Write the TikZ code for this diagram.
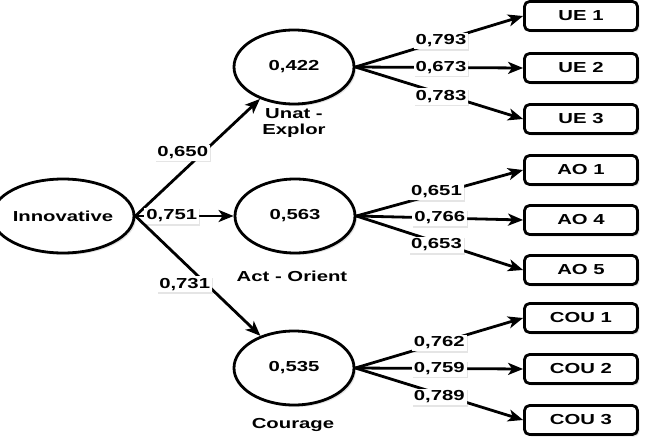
\documentclass[tikz,border=0pt]{standalone}
\usepackage{fontspec}
\setmainfont{Liberation Sans}[FakeStretch=1.4]
\usetikzlibrary{arrows.meta,shapes.geometric,shadows}
\begin{document}
\begin{tikzpicture}[x=1pt,y=-1pt,
  font=\fontsize{14.5}{16}\selectfont\bfseries,
  shd/.style={drop shadow={shadow xshift=2pt,shadow yshift=-2pt,opacity=0.22}},
  lat/.style={ellipse,draw,line width=2.8pt,fill=white,minimum width=120pt,minimum height=74pt,inner sep=0pt,shd},
  ind/.style={rectangle,rounded corners=5pt,draw,line width=2.8pt,fill=white,minimum width=113pt,minimum height=29pt,inner sep=0pt,shd},
  conn/.style={line width=2.8pt,-{Stealth[length=15pt,width=12pt,inset=4pt]}},
  wt/.style={fill=white,inner sep=2pt,drop shadow={shadow xshift=1pt,shadow yshift=-1.5pt,opacity=0.2}},
  lvname/.style={align=center,inner sep=0pt}
]
\useasboundingbox (0,0) rectangle (653,444);
\fill[white] (0,0) rectangle (653,444);

% latent variables
\node[lat] (inn) at (63,216) {Innovative};
\node[lat] (unat) at (294,67) {0,422};
\node[lat] (act) at (295,216) {0,563};
\node[lat] (cou) at (294,368) {0,535};

\node[lvname] (unatname) at (294,123) {Unat -\\Explor};
\node[lvname] (actname) at (292,276) {Act - Orient};
\node[lvname] (couname) at (293,425) {Courage};

% indicators
\node[ind] (ue1) at (581,16) {UE 1};
\node[ind] (ue2) at (581,68) {UE 2};
\node[ind] (ue3) at (581,119) {UE 3};
\node[ind] (ao1) at (581,170) {AO 1};
\node[ind] (ao4) at (581,220) {AO 4};
\node[ind] (ao5) at (581,270) {AO 5};
\node[ind] (cou1) at (581,318) {COU 1};
\node[ind] (cou2) at (581,369) {COU 2};
\node[ind] (cou3) at (581,420) {COU 3};

% structural paths
\draw[conn] (inn.east) -- node[wt,pos=0.54,xshift=-20pt] {0,650} (unat);
\draw[conn] (inn.east) -- node[wt,pos=0.37] {0,751} (act);
\draw[conn] (inn.east) -- node[wt,pos=0.57,xshift=-22pt] {0,731} (cou);

% outer loadings
\draw[conn] (unat.east) -- node[wt,pos=0.51] {0,793} (ue1.west);
\draw[conn] (unat.east) -- node[wt,pos=0.51] {0,673} (ue2.west);
\draw[conn] (unat.east) -- node[wt,pos=0.51,yshift=-3pt] {0,783} (ue3.west);

\draw[conn] (act.east) -- node[wt,pos=0.48,yshift=2pt] {0,651} (ao1.west);
\draw[conn] (act.east) -- node[wt,pos=0.5] {0,766} (ao4.west);
\draw[conn] (act.east) -- node[wt,pos=0.48,yshift=-3pt] {0,653} (ao5.west);

\draw[conn] (cou.east) -- node[wt,pos=0.5] {0,762} (cou1.west);
\draw[conn] (cou.east) -- node[wt,pos=0.5] {0,759} (cou2.west);
\draw[conn] (cou.east) -- node[wt,pos=0.5,yshift=-3pt] {0,789} (cou3.west);
\end{tikzpicture}
\end{document}
